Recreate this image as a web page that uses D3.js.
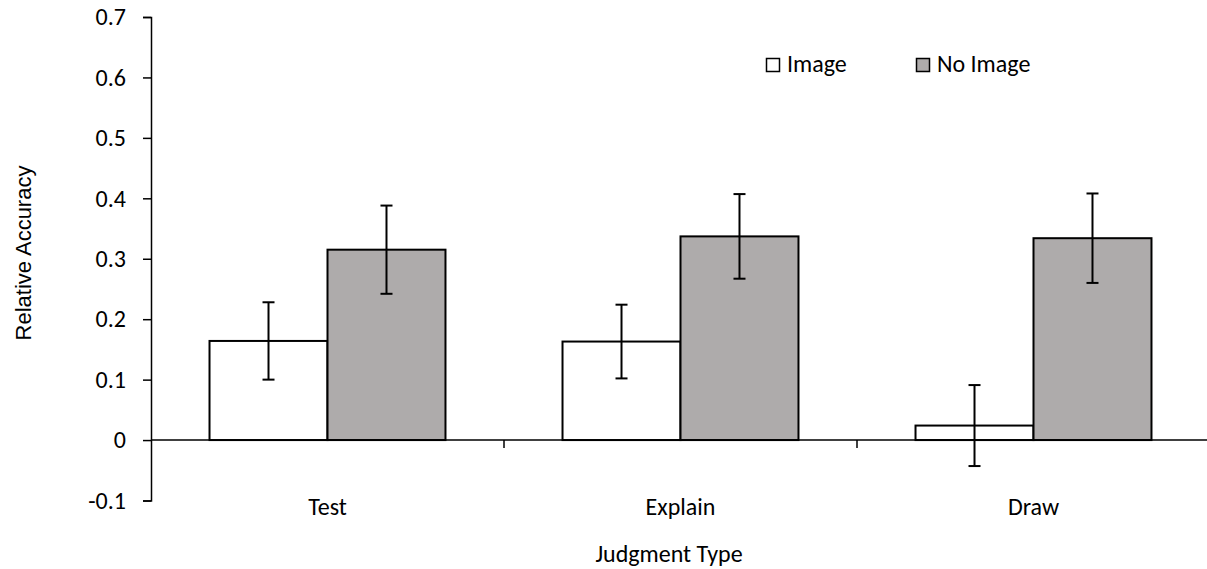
<!DOCTYPE html>
<html>
<head>
<meta charset="utf-8">
<script src="https://cdn.jsdelivr.net/npm/d3@7"></script>
<style>
  body { margin: 0; background: #fff; }
  text { font-family: Calibri, Carlito, Lato, sans-serif; fill: #000; }
</style>
</head>
<body>
<div id="chart"></div>
<script>
// data
var categories = ["Test", "Explain", "Draw"];
var seriesNames = ["Image", "No Image"];
var imageValues = [0.164, 0.163, 0.024];
var imageErrors = [0.064, 0.061, 0.067];
var noImageValues = [0.315, 0.337, 0.334];
var noImageErrors = [0.073, 0.070, 0.074];
var yTicks = [-0.1, 0, 0.1, 0.2, 0.3, 0.4, 0.5, 0.6, 0.7];

var colors = { "Image": "#ffffff", "No Image": "#aeabab" };

var width = 1207, height = 569;
var fontSize = "24px";

var svg = d3.select("#chart")
  .append("svg")
    .attr("width", width)
    .attr("height", height);

// build rows for bars
var rows = [];
categories.forEach(function(c, i) {
  rows.push({cat: c, series: "Image", value: imageValues[i], err: imageErrors[i]});
  rows.push({cat: c, series: "No Image", value: noImageValues[i], err: noImageErrors[i]});
});

// scales
var x0 = d3.scaleBand()
  .domain(categories)
  .range([151, 1210])
  .padding(0);

var x1 = d3.scaleBand()
  .domain(seriesNames)
  .range([0, x0.bandwidth()])
  .paddingInner(0)
  .paddingOuter(0.496);

var y = d3.scaleLinear()
  .domain([-0.1, 0.7])
  .range([500.5, 17]);

// Y axis
var yAxis = svg.append("g")
  .attr("transform", "translate(151,0)")
  .call(d3.axisLeft(y)
    .tickValues(yTicks)
    .tickSizeInner(8)
    .tickSizeOuter(8)
    .tickPadding(17)
    .tickFormat(function(d) { return d === 0 ? "0" : d.toFixed(1); }));
yAxis.selectAll("path, line").attr("stroke", "#000").attr("stroke-width", 1.5);
yAxis.selectAll("text")
  .style("font-family", "Calibri, Carlito, Lato, sans-serif")
  .style("font-size", fontSize);

// bars
svg.append("g")
  .selectAll("rect")
  .data(rows)
  .enter()
  .append("rect")
    .attr("x", function(d) { return x0(d.cat) + x1(d.series); })
    .attr("width", x1.bandwidth())
    .attr("y", function(d) { return y(Math.max(0, d.value)); })
    .attr("height", function(d) { return Math.abs(y(d.value) - y(0)); })
    .attr("fill", function(d) { return colors[d.series]; })
    .attr("stroke", "#000")
    .attr("stroke-width", 2);

// X axis line with ticks between categories
var xAxis = svg.append("g")
  .attr("transform", "translate(0," + y(0) + ")");
xAxis.append("line")
  .attr("x1", x0.range()[0])
  .attr("x2", x0.range()[1])
  .attr("stroke", "#000")
  .attr("stroke-width", 1.5);
xAxis.selectAll(".sep")
  .data(categories.slice(1))
  .enter()
  .append("line")
    .attr("x1", function(d) { return x0(d); })
    .attr("x2", function(d) { return x0(d); })
    .attr("y1", 0)
    .attr("y2", 8)
    .attr("stroke", "#000")
    .attr("stroke-width", 1.5);

// category labels
svg.append("g")
  .selectAll("text")
  .data(categories)
  .enter()
  .append("text")
    .attr("x", function(d) { return x0(d) + x0.bandwidth() / 2; })
    .attr("y", 515)
    .attr("text-anchor", "middle")
    .style("font-size", fontSize)
    .text(function(d) { return d; });

// error bars
var eb = svg.append("g")
  .selectAll("g")
  .data(rows)
  .enter()
  .append("g")
    .attr("transform", function(d) { return "translate(" + (x0(d.cat) + x1(d.series) + x1.bandwidth() / 2) + ",0)"; });
eb.append("line")
  .attr("y1", function(d) { return y(d.value + d.err); })
  .attr("y2", function(d) { return y(d.value - d.err); })
  .attr("stroke", "#000").attr("stroke-width", 2);
eb.append("line")
  .attr("x1", -6).attr("x2", 6)
  .attr("y1", function(d) { return y(d.value + d.err); })
  .attr("y2", function(d) { return y(d.value + d.err); })
  .attr("stroke", "#000").attr("stroke-width", 2);
eb.append("line")
  .attr("x1", -6).attr("x2", 6)
  .attr("y1", function(d) { return y(d.value - d.err); })
  .attr("y2", function(d) { return y(d.value - d.err); })
  .attr("stroke", "#000").attr("stroke-width", 2);

// axis titles
svg.append("text")
  .attr("transform", "translate(31,253) rotate(-90)")
  .attr("text-anchor", "middle")
  .style("font-family", "Liberation Sans, Arial, sans-serif")
  .style("font-size", "22px")
  .text("Relative Accuracy");

svg.append("text")
  .attr("x", 669)
  .attr("y", 562)
  .attr("text-anchor", "middle")
  .style("font-size", fontSize)
  .text("Judgment Type");

// legend
var legendX = [766, 916];
var legend = svg.append("g")
  .selectAll("g")
  .data(seriesNames)
  .enter()
  .append("g")
    .attr("transform", function(d, i) { return "translate(" + legendX[i] + ",58)"; });
legend.append("rect")
  .attr("x", 0.5).attr("y", 0.5)
  .attr("width", 13).attr("height", 13)
  .attr("fill", function(d) { return colors[d]; })
  .attr("stroke", "#000")
  .attr("stroke-width", 1.5);
legend.append("text")
  .attr("x", 21)
  .attr("y", 14)
  .style("font-size", fontSize)
  .text(function(d) { return d; });
</script>
</body>
</html>
